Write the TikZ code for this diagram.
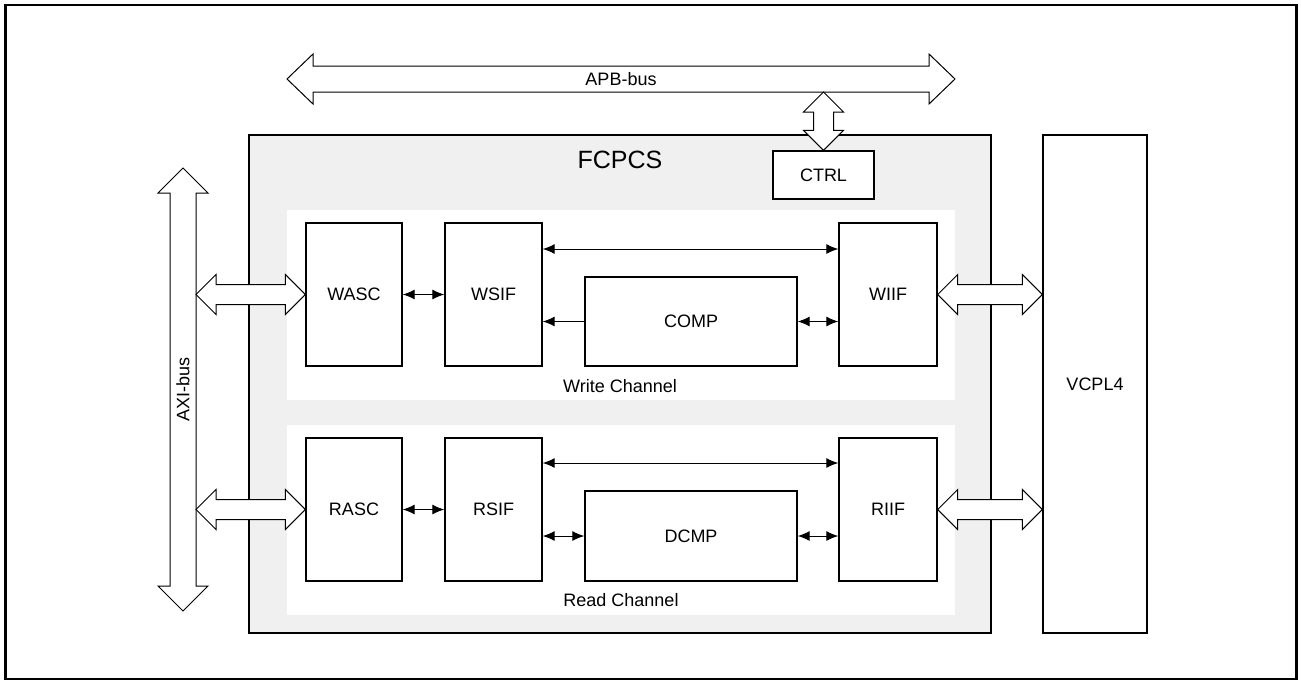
\documentclass[tikz,border=0pt]{standalone}
\usepackage{fontspec}
\setmainfont{Liberation Sans}
\usetikzlibrary{arrows.meta,calc}
\newcommand{\lblfont}{\fontsize{18}{21}\selectfont}
\newcommand{\bigfont}{\fontsize{25}{29}\selectfont}
\definecolor{panelgray}{HTML}{F0F0F0}
\tikzset{
  blk/.style={draw=black, line width=1.4pt, fill=white, font=\lblfont, inner sep=0pt},
  outerbox/.style={draw=black, line width=1.4pt, fill=panelgray, inner sep=0pt},
  panel/.style={draw=none, fill=white, inner sep=0pt},
  txt/.style={font=\lblfont, inner sep=0pt},
  thinar/.style={line width=1pt, -{Latex[length=12pt,width=10pt]}},
  thinbi/.style={line width=1pt, {Latex[length=12pt,width=10pt]}-{Latex[length=12pt,width=10pt]}},
  blockar/.style={draw=black, line width=1pt, fill=white, line join=miter},
}
% horizontal double block arrow: #1 left tip, #2 right tip, #3 shaft half, #4 head half, #5 head length
\newcommand{\hblock}[5]{%
  \path[blockar] let \p1=(#1), \p2=(#2) in
   (\x1,\y1) -- (\x1+#5pt,\y1+#4pt) -- (\x1+#5pt,\y1+#3pt) -- (\x2-#5pt,\y1+#3pt)
   -- (\x2-#5pt,\y1+#4pt) -- (\x2,\y1) -- (\x2-#5pt,\y1-#4pt) -- (\x2-#5pt,\y1-#3pt)
   -- (\x1+#5pt,\y1-#3pt) -- (\x1+#5pt,\y1-#4pt) -- cycle;}
% vertical double block arrow: #1 top tip, #2 bottom tip
\newcommand{\vblock}[5]{%
  \path[blockar] let \p1=(#1), \p2=(#2) in
   (\x1,\y1) -- (\x1+#4pt,\y1-#5pt) -- (\x1+#3pt,\y1-#5pt) -- (\x1+#3pt,\y2+#5pt)
   -- (\x1+#4pt,\y2+#5pt) -- (\x1,\y2) -- (\x1-#4pt,\y2+#5pt) -- (\x1-#3pt,\y2+#5pt)
   -- (\x1-#3pt,\y1-#5pt) -- (\x1-#4pt,\y1-#5pt) -- cycle;}
\begin{document}
\begin{tikzpicture}[x=1pt,y=-1pt]
\useasboundingbox (0,0) rectangle (1301,683);
% outer frame
\draw[line width=2.5pt] (5.5,5) rectangle (1296.5,679);

% main containers
\node[outerbox, minimum width=742pt, minimum height=498pt] (fcpcs) at (620,384) {};
\node[blk, minimum width=104pt, minimum height=498pt] (vcpl) at (1095,384) {VCPL4};
\node[font=\bigfont, inner sep=0pt] (fcpcslbl) at (620,160) {FCPCS};
\node[blk, minimum width=101pt, minimum height=48pt] (ctrl) at (823.5,175) {CTRL};

% channel panels
\node[panel, minimum width=668pt, minimum height=190pt] (wpanel) at (621,305) {};
\node[panel, minimum width=668pt, minimum height=190pt] (rpanel) at (621,520) {};
\node[txt] (wlbl) at (620,386) {Write Channel};
\node[txt] (rlbl) at (621,600) {Read Channel};

% write channel blocks
\node[blk, minimum width=96pt, minimum height=143pt] (wasc) at (354,294.5) {WASC};
\node[blk, minimum width=97pt, minimum height=143pt] (wsif) at (493.5,294.5) {WSIF};
\node[blk, minimum width=212pt, minimum height=89pt] (comp) at (691,321.5) {COMP};
\node[blk, minimum width=98pt, minimum height=143pt] (wiif) at (888,294.5) {WIIF};

% read channel blocks
\node[blk, minimum width=96pt, minimum height=143pt] (rasc) at (354,509.5) {RASC};
\node[blk, minimum width=97pt, minimum height=143pt] (rsif) at (493.5,509.5) {RSIF};
\node[blk, minimum width=212pt, minimum height=90pt] (dcmp) at (691,536) {DCMP};
\node[blk, minimum width=98pt, minimum height=143pt] (riif) at (888,509.5) {RIIF};

% thin connectors, write channel
\draw[thinbi] (wasc.east) -- (wsif.west);
\draw[thinbi] ([yshift=45.5pt]wsif.east) -- ([yshift=45.5pt]wiif.west);
\draw[thinar] (comp.west) -- (comp.west -| wsif.east);
\draw[thinbi] (comp.east) -- (comp.east -| wiif.west);

% thin connectors, read channel
\draw[thinbi] (rasc.east) -- (rsif.west);
\draw[thinbi] ([yshift=46.5pt]rsif.east) -- ([yshift=46.5pt]riif.west);
\draw[thinbi] (dcmp.west -| rsif.east) -- (dcmp.west);
\draw[thinbi] (dcmp.east) -- (dcmp.east -| riif.west);

% bus coordinates
\coordinate (apbL) at (287,79);
\coordinate (apbR) at (955,79);
\coordinate (apbB) at (0,92);
\coordinate (axiT) at (183,168);
\coordinate (axiB) at (183,611);
\coordinate (axiR) at (196,0);

% buses
\hblock{apbL}{apbR}{13}{25}{26}
\node[txt] (apblbl) at (621,79) {APB-bus};
\vblock{axiT}{axiB}{13}{25}{25}
\node[txt, rotate=90] (axilbl) at (183,389.5) {AXI-bus};

% block connectors
\vblock{ctrl.north |- apbB}{ctrl.north}{10}{20}{20}
\hblock{axiR |- wasc.west}{wasc.west}{10}{20}{20}
\hblock{axiR |- rasc.west}{rasc.west}{10}{20}{20}
\hblock{wiif.east}{vcpl.west |- wiif.east}{10}{20}{20}
\hblock{riif.east}{vcpl.west |- riif.east}{10}{20}{20}
\end{tikzpicture}
\end{document}
